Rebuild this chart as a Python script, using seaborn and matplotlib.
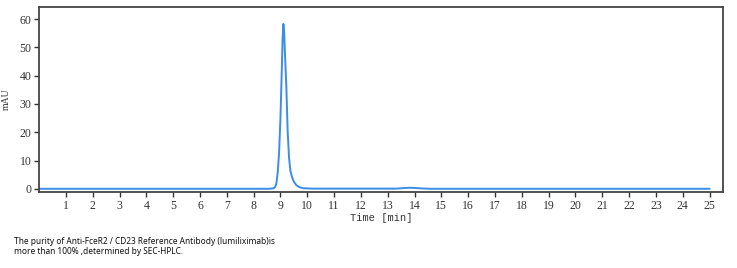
import matplotlib
matplotlib.use("Agg")
import matplotlib.pyplot as plt
import seaborn as sns
import pandas as pd

# Chromatogram values
time_min = [0.0, 8.6, 8.75, 8.8, 8.85, 8.9, 8.95, 9.0, 9.05, 9.08, 9.11, 9.14,
            9.18, 9.22, 9.27, 9.32, 9.37, 9.42, 9.5, 9.6, 9.7, 9.85, 10.2, 13.3,
            13.6, 13.8, 14.0, 14.3, 14.6, 25.0]
mau = [0.0, 0.0, 0.2, 0.6, 2.0, 6.0, 13.0, 25.0, 42.0, 53.0, 58.3, 55.0,
       45.0, 36.0, 20.0, 11.0, 6.5, 4.5, 2.5, 1.2, 0.6, 0.2, 0.05, 0.05,
       0.25, 0.35, 0.3, 0.1, 0.0, 0.0]
x_ticks = list(range(1, 26))
y_ticks = [0, 10, 20, 30, 40, 50, 60]
caption = ("The purity of Anti-FceR2 / CD23 Reference Antibody (lumiliximab)is\n"
           "more than 100% ,determined by SEC-HPLC.")

df = pd.DataFrame({"Time": time_min, "mAU": mau})

sns.set_theme(style="white")
fig = plt.figure(figsize=(7.37, 2.68), dpi=100)
ax = fig.add_axes([0.053, 0.284, 0.928, 0.690])

sns.lineplot(data=df, x="Time", y="mAU", ax=ax, color="#3a8ee6", linewidth=1.4)

ax.set_xlim(0, 25.5)
ax.set_ylim(-1.1, 64.3)
ax.set_xticks(x_ticks)
ax.set_yticks(y_ticks)
ax.set_xticklabels([str(t) for t in x_ticks], fontsize=8.5, family="Liberation Serif", color="#333333")
ax.set_yticklabels([str(t) for t in y_ticks], fontsize=8.5, family="Liberation Serif", color="#333333")
ax.tick_params(axis="both", direction="out", length=3.5, width=1, color="#333333", pad=2,
               bottom=True, left=True)
ax.set_xlabel("Time [min]", fontsize=7.5, family="Liberation Mono", color="#333333", labelpad=1)
ax.set_ylabel("mAU", fontsize=7, family="Liberation Serif", color="#333333", labelpad=6)
for s in ax.spines.values():
    s.set_visible(True)
    s.set_color("#444444")
    s.set_linewidth(1.3)

fig.text(0.019, 0.045, caption, fontsize=6.0, family="Noto Sans", color="#111111",
         va="bottom", ha="left", linespacing=1.2)

fig.savefig("out.png", dpi=100, facecolor="white")
